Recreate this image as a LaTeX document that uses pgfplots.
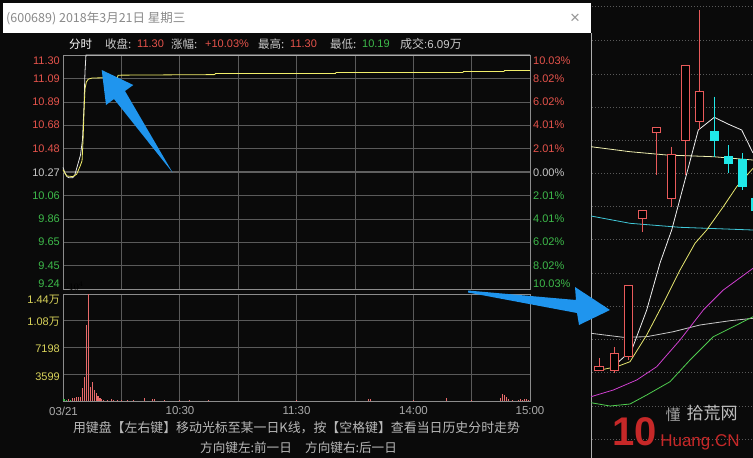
\documentclass[border=0pt]{standalone}
\usepackage{fontspec}
\setmainfont{Liberation Sans}
\newfontfamily\cjk{Noto Sans CJK SC}
\usepackage{pgfplots}
\pgfplotsset{compat=1.18}
\definecolor{bgk}{HTML}{0A0A0A}
\definecolor{gridc}{HTML}{5A5A5A}
\definecolor{axc}{HTML}{8C8C8C}
\definecolor{upred}{HTML}{E5534B}
\definecolor{dngreen}{HTML}{3DBA4A}
\definecolor{txtg}{HTML}{C8C8C8}
\definecolor{volyel}{HTML}{D9D35A}
\definecolor{priceW}{HTML}{E6E6E6}
\definecolor{avgY}{HTML}{F2EE6A}
\definecolor{volR}{HTML}{E86A6A}
\definecolor{volG}{HTML}{3DBA4A}
\definecolor{arrowB}{HTML}{1F95EE}
\definecolor{candR}{HTML}{E85A5A}
\definecolor{candC}{HTML}{20E8E8}
\begin{document}
\begin{tikzpicture}
\begin{scope}[x=1pt,y=-1pt]
\useasboundingbox (0,0) rectangle (753,458);
\fill[bgk] (0,0) rectangle (753,458);
\fill[white] (3,3) rectangle (591,33);
\draw[axc!70, line width=0.8pt] (591.7,33) -- (591.7,458);
\end{scope}

% ---------- price pane ----------
\begin{axis}[at={(63pt,-289pt)}, anchor=south west, scale only axis,
  width=467pt, height=234pt, xmin=0, xmax=240, ymin=9.243, ymax=11.297,
  xtick={30,60,...,210}, ytick={9.448,9.654,9.859,10.065,10.476,10.681,10.886,11.092},
  xticklabels={}, yticklabels={}, tick style={draw=none},
  grid=major, grid style={gridc, line width=0.6pt},
  axis line style={axc, line width=0.8pt}, clip=false]
\addplot[color=gray!75!black, line width=2.6pt] coordinates {(0,10.27) (240,10.27)};
\addplot[priceW, line width=0.8pt] coordinates {
(0,10.31) (1,10.26) (2,10.23) (3,10.22) (5,10.22) (6,10.24) (7,10.30) (8,10.36)
(9,10.42) (10,10.55) (10.8,10.85) (11.3,11.15) (11.8,11.297) (240,11.297)};
\addplot[avgY, line width=0.8pt] coordinates {
(0,10.29) (1,10.26) (2,10.235) (5,10.23) (7,10.25) (8,10.29) (9,10.33) (9.8,10.37)
(10.3,10.55) (10.8,10.80) (11.3,11.00) (12,11.06) (13,11.085) (15,11.095) (28,11.10)
(28.3,11.12) (78,11.125) (78.3,11.134) (140,11.134) (140.3,11.143) (205.5,11.143)
(205.8,11.152) (226.6,11.152) (226.9,11.161) (240,11.161)};
\end{axis}

% ---------- volume pane ----------
\begin{axis}[at={(63pt,-401pt)}, anchor=south west, scale only axis,
  width=467pt, height=107pt, xmin=0, xmax=240, ymin=0, ymax=14396,
  xtick={30,60,...,210}, ytick={3599,7198,10797},
  xticklabels={}, yticklabels={}, tick style={draw=none},
  grid=major, grid style={gridc, line width=0.6pt},
  axis line style={axc, line width=0.8pt}]
\addplot[ycomb, volG, line width=1.1pt] coordinates {(0,300) (1,250) (2,200) (4,180)};
\addplot[ycomb, volR, line width=1.1pt] coordinates {
(3,280) (5,350) (6,450) (7,600) (8,500) (9,600) (10,1750) (11,3200) (12,10250)
(13,14396) (14,1900) (15,2600) (16,1500) (17,1100) (18,700) (19,400) (20,300)
(21,200) (23,150) (25,250) (26,150) (28,120) (30,100) (33,150) (36,100) (42,350)
(46,300) (47,300) (52,120) (60,100) (65,80) (75,80) (120,100) (157,220) (158,220)
(180,80) (197,350) (210,80) (225,400) (226,1000) (227,800) (228,500) (229,250)
(231,100) (234,200) (235,250) (236,200) (237,300) (238,250) (239,200)};
\end{axis}

% ---------- right K-line panel (pixel coordinates) ----------
\begin{axis}[at={(591pt,0pt)}, anchor=north west, scale only axis,
  width=162pt, height=458pt, xmin=591, xmax=753, ymin=0, ymax=458,
  y dir=reverse, hide axis, unbounded coords=jump]
\addplot[color=gray!70!black, line width=0.7pt, dash pattern=on 1pt off 2pt] coordinates {
(592,6)(753,6) (nan,nan) (592,40.7)(753,40.7) (nan,nan) (592,74)(753,74) (nan,nan)
(592,107)(753,107) (nan,nan) (592,140)(753,140) (nan,nan) (592,173)(753,173) (nan,nan)
(592,206.7)(753,206.7) (nan,nan) (592,239.5)(753,239.5) (nan,nan) (592,273)(753,273) (nan,nan)
(592,306)(753,306) (nan,nan) (592,339)(753,339) (nan,nan) (592,372.7)(753,372.7) (nan,nan)
(592,406)(753,406) (nan,nan) (592,439)(753,439)};
% moving averages
\addplot[color={rgb,255:red,240;green,240;blue,176}, line width=0.8pt] coordinates {(591,146.7) (630,151.7) (666.7,155) (713.3,156.7) (753,160)};
\addplot[color={rgb,255:red,64;green,200;blue,216}, line width=0.8pt] coordinates {(591,216) (630,223.3) (680,227.3) (753,230)};
\addplot[color={rgb,255:red,200;green,200;blue,200}, line width=0.8pt] coordinates {(591,333.3) (623.3,337.3) (646.7,336.7) (673.3,331.7) (700,325) (730,320.7) (753,318.3)};
\addplot[color={rgb,255:red,80;green,208;blue,80}, line width=0.8pt] coordinates {(591,402.7) (610,406) (630,404) (646.7,395) (670,381.7) (690,360) (713.3,336.7) (733.3,326.7) (753,316.7)};
\addplot[color={rgb,255:red,208;green,64;blue,208}, line width=0.8pt] coordinates {(591,396.7) (613.3,390) (636.7,380) (656.7,366.7) (680,340) (703.3,310) (723.3,290) (753,268.3)};
\addplot[color={rgb,255:red,232;green,232;blue,112}, line width=0.8pt] coordinates {(600,370) (616.7,366.7) (630,361.7) (646.7,335) (663.3,303.3) (680,270) (695,243.3) (706.7,230) (723.3,206.7) (736.7,186.7) (753,168.3)};
\addplot[color={rgb,255:red,240;green,240;blue,240}, line width=0.8pt] coordinates {(611.7,368) (631.7,350) (646.7,310) (660,263) (671.7,230) (685,180) (698.3,130) (714.3,117.3) (728,124) (741.7,130) (753,153)};
% wicks
\addplot[candR, line width=0.8pt] coordinates {
(599,358)(599,371) (nan,nan) (614.3,347)(614.3,373) (nan,nan) (628.3,285)(628.3,360) (nan,nan)
(642.3,210)(642.3,232) (nan,nan) (656.3,127.7)(656.3,175) (nan,nan) (671.3,146.7)(671.3,206.7) (nan,nan)
(685.3,65)(685.3,175) (nan,nan) (699.3,10)(699.3,130)};
\addplot[candC, line width=0.8pt] coordinates {
(714.3,96.7)(714.3,156.7) (nan,nan) (728.3,145)(728.3,173.3) (nan,nan) (742.3,153.3)(742.3,190) (nan,nan) (756,190)(756,215)};
% hollow red bodies
\addplot[draw=candR, fill=black, line width=0.8pt] coordinates {(594.8,366)(603.2,366)(603.2,370)(594.8,370)(594.8,366)};
\addplot[draw=candR, fill=black, line width=0.8pt] coordinates {(610.1,353.3)(618.5,353.3)(618.5,370)(610.1,370)(610.1,353.3)};
\addplot[draw=candR, fill=black, line width=0.8pt] coordinates {(624.1,285)(632.5,285)(632.5,356.7)(624.1,356.7)(624.1,285)};
\addplot[draw=candR, fill=black, line width=0.8pt] coordinates {(638.1,210)(646.5,210)(646.5,218.3)(638.1,218.3)(638.1,210)};
\addplot[draw=candR, fill=black, line width=0.8pt] coordinates {(652.1,127.7)(660.5,127.7)(660.5,132.3)(652.1,132.3)(652.1,127.7)};
\addplot[draw=candR, fill=black, line width=0.8pt] coordinates {(667.1,154.3)(675.5,154.3)(675.5,198.3)(667.1,198.3)(667.1,154.3)};
\addplot[draw=candR, fill=black, line width=0.8pt] coordinates {(681.1,65)(689.5,65)(689.5,140)(681.1,140)(681.1,65)};
\addplot[draw=candR, fill=black, line width=0.8pt] coordinates {(695.1,91)(703.5,91)(703.5,121.7)(695.1,121.7)(695.1,91)};
% filled cyan bodies
\addplot[draw=candC, fill=candC, line width=0.8pt] coordinates {(710.1,131.7)(718.5,131.7)(718.5,140)(710.1,140)(710.1,131.7)};
\addplot[draw=candC, fill=candC, line width=0.8pt] coordinates {(724.1,156.7)(732.5,156.7)(732.5,163.3)(724.1,163.3)(724.1,156.7)};
\addplot[draw=candC, fill=candC, line width=0.8pt] coordinates {(738.1,159.3)(746.5,159.3)(746.5,186.7)(738.1,186.7)(738.1,159.3)};
\addplot[draw=candC, fill=candC, line width=0.8pt] coordinates {(751.8,198)(760.2,198)(760.2,210)(751.8,210)(751.8,198)};
\end{axis}

% ---------- texts and annotations ----------
\begin{scope}[x=1pt,y=-1pt, every node/.style={inner sep=0pt}]
\node[anchor=west, text={rgb,255:red,138;green,138;blue,138}, font=\cjk\fontsize{12.5}{14}\selectfont] at (6,18) {(600689) 2018年3月21日 星期三};
\node[text={rgb,255:red,150;green,150;blue,150}, font=\fontsize{17}{18}\selectfont] at (575,19) {×};
% header
\node[anchor=west, text=white, font=\cjk\fontsize{11.5}{13}\selectfont] at (69,44) {分时};
\node[anchor=west, text=txtg, font=\cjk\fontsize{11.5}{13}\selectfont] at (105,44) {收盘:};
\node[anchor=west, text=upred, font=\fontsize{11}{13}\selectfont] at (137,44) {11.30};
\node[anchor=west, text=txtg, font=\cjk\fontsize{11.5}{13}\selectfont] at (171,44) {涨幅:};
\node[anchor=west, text=upred, font=\fontsize{11}{13}\selectfont] at (205,44) {+10.03\%};
\node[anchor=west, text=txtg, font=\cjk\fontsize{11.5}{13}\selectfont] at (258,44) {最高:};
\node[anchor=west, text=upred, font=\fontsize{11}{13}\selectfont] at (290,44) {11.30};
\node[anchor=west, text=txtg, font=\cjk\fontsize{11.5}{13}\selectfont] at (330,44) {最低:};
\node[anchor=west, text=dngreen, font=\fontsize{11}{13}\selectfont] at (362,44) {10.19};
\node[anchor=west, text=txtg, font=\fontsize{11.5}{13}\selectfont] at (400,44) {{\cjk\fontsize{12}{13}\selectfont 成交}:6.09{\cjk\fontsize{12}{13}\selectfont 万}};
% left price labels
\begin{scope}[every node/.append style={anchor=east, font=\fontsize{11}{13}\selectfont}]
\node[text=upred] at (60,61) {11.30};
\node[text=upred] at (60,78.5) {11.09};
\node[text=upred] at (60,102) {10.89};
\node[text=upred] at (60,125) {10.68};
\node[text=upred] at (60,148.5) {10.48};
\node[text=txtg] at (60,173) {10.27};
\node[text=dngreen] at (60,196) {10.06};
\node[text=dngreen] at (60,219) {9.86};
\node[text=dngreen] at (60,242) {9.65};
\node[text=dngreen] at (60,266) {9.45};
\node[text=dngreen] at (60,284) {9.24};
\node[text=volyel] at (60,300) {1.44{\cjk 万}};
\node[text=volyel] at (60,322) {1.08{\cjk 万}};
\node[text=volyel] at (60,349) {7198};
\node[text=volyel] at (60,377) {3599};
\end{scope}
% right percent labels
\begin{scope}[every node/.append style={anchor=west, font=\fontsize{11}{13}\selectfont}]
\node[text=upred] at (533,61) {10.03\%};
\node[text=upred] at (533,78.5) {8.02\%};
\node[text=upred] at (533,102) {6.02\%};
\node[text=upred] at (533,125) {4.01\%};
\node[text=upred] at (533,148.5) {2.01\%};
\node[text=txtg] at (533,173) {0.00\%};
\node[text=dngreen] at (533,196) {2.01\%};
\node[text=dngreen] at (533,219) {4.01\%};
\node[text=dngreen] at (533,242) {6.02\%};
\node[text=dngreen] at (533,266) {8.02\%};
\node[text=dngreen] at (533,284) {10.03\%};
\end{scope}
% time labels
\begin{scope}[every node/.append style={text={rgb,255:red,170;green,170;blue,170}, font=\fontsize{11.5}{13}\selectfont}]
\node at (63.5,411) {03/21};
\node at (180,411) {10:30};
\node at (296.5,411) {11:30};
\node at (413.5,411) {14:00};
\node at (530,411) {15:00};
\end{scope}
% bottom hints
\node[text={rgb,255:red,185;green,185;blue,185}, font=\cjk\fontsize{12.9}{14}\selectfont] at (296.5,428) {用键盘【左右键】移动光标至某一日K线，按【空格键】查看当日历史分时走势};
\node[anchor=west, text={rgb,255:red,185;green,185;blue,185}, font=\cjk\fontsize{12.6}{14}\selectfont] at (200,448) {方向键左:前一日};
\node[anchor=west, text={rgb,255:red,185;green,185;blue,185}, font=\cjk\fontsize{12.6}{14}\selectfont] at (305,448) {方向键右:后一日};
% blue arrows
\fill[arrowB] (101.7,70) -- (133.3,85) -- (125,91) -- (172.7,172.7) -- (114,99) -- (106,105) -- cycle;
\fill[arrowB] (468,290.5) -- (576,300) -- (575,287) -- (610,310) -- (579,325) -- (577,313) -- (468,292.5) -- cycle;
% watermark
\node[text={rgb,255:red,198;green,40;blue,40}, font=\bfseries\fontsize{40}{40}\selectfont] at (635,432) {10};
\node[text={rgb,255:red,190;green,190;blue,190}, font=\cjk\fontsize{17}{18}\selectfont] at (712,413) {拾荒网};
\node[text={rgb,255:red,160;green,160;blue,160}, font=\cjk\fontsize{15}{16}\selectfont] at (673,415) {懂};
\node[text={rgb,255:red,198;green,40;blue,40}, font=\fontsize{17}{18}\selectfont] at (700,442) {Huang.CN};
\end{scope}
\end{tikzpicture}
\end{document}
